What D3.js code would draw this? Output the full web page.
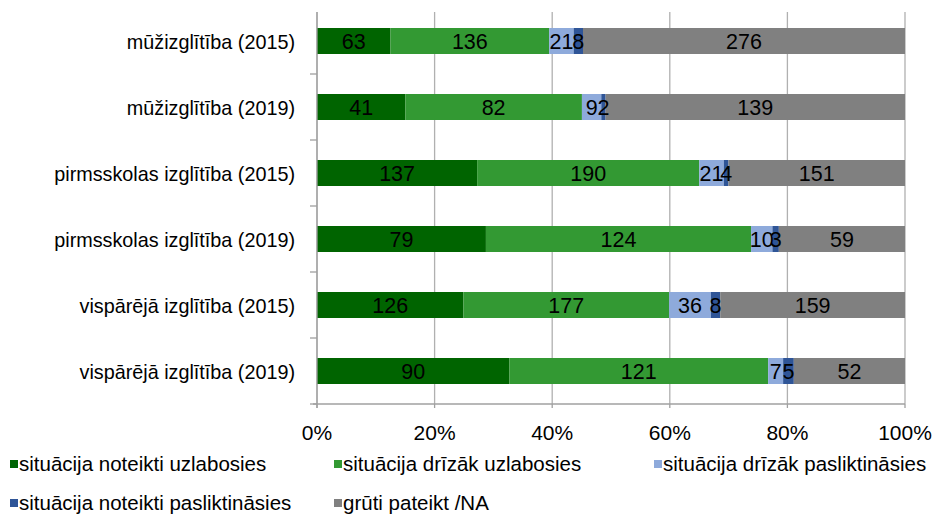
<!DOCTYPE html>
<html><head><meta charset="utf-8">
<script src="https://cdn.jsdelivr.net/npm/d3@7"></script>
<style>body{margin:0;background:#fff}svg{display:block}text{font-family:"Liberation Sans",Arial,sans-serif}</style>
</head><body><svg id="c" width="936" height="518"></svg>
<script>
const categories = ["mūžizglītība (2015)","mūžizglītība (2019)","pirmsskolas izglītība (2015)","pirmsskolas izglītība (2019)","vispārējā izglītība (2015)","vispārējā izglītība (2019)"];
const seriesNames = ["situācija noteikti uzlabosies","situācija drīzāk uzlabosies","situācija drīzāk pasliktināsies","situācija noteikti pasliktināsies","grūti pateikt /NA"];
const noteiktiUzlabosies = [63,41,137,79,126,90];
const drizakUzlabosies = [136,82,190,124,177,121];
const drizakPasliktinasies = [21,9,21,10,36,7];
const noteiktiPasliktinasies = [8,2,4,3,8,5];
const gruti = [276,139,151,59,159,52];
const colors = ["#006400","#339933","#8eaadb","#2f5597","#808080"];
const tickLabels = ["0%","20%","40%","60%","80%","100%"];

const series = [noteiktiUzlabosies,drizakUzlabosies,drizakPasliktinasies,noteiktiPasliktinasies,gruti];
const rows = categories.map((c,i)=>{const o={cat:c};seriesNames.forEach((s,j)=>o[s]=series[j][i]);return o;});
const stack = d3.stack().keys(seriesNames).offset(d3.stackOffsetExpand)(rows);

const svg = d3.select("#c");
const L=317,R=905,T=8,B=404;
const x = d3.scaleLinear().domain([0,1]).range([L,R]);
const yb = d3.scaleBand().domain(categories).range([T,B]);

// gridlines
svg.append("g").selectAll("line").data(d3.range(0,1.01,0.2)).join("line")
  .attr("x1",d=>x(d)).attr("x2",d=>x(d)).attr("y1",12).attr("y2",B)
  .attr("stroke","#b0b0b0").attr("stroke-width",1.3);

// bars
const g = svg.append("g");
stack.forEach((s,si)=>{
  g.append("g").selectAll("rect").data(s).join("rect")
    .attr("x",d=>x(d[0])).attr("width",d=>x(d[1])-x(d[0]))
    .attr("y",d=>yb(d.data.cat)+20).attr("height",26)
    .attr("fill",colors[si]);
});
stack.forEach((s,si)=>{
  g.append("g").selectAll("text").data(s).join("text")
    .attr("x",d=>(x(d[0])+x(d[1]))/2).attr("y",d=>yb(d.data.cat)+33)
    .attr("dy","0.36em").attr("text-anchor","middle")
    .attr("font-size",21.5).attr("fill","#000")
    .text(d=>d.data[seriesNames[si]]);
});

// y axis
const ax = svg.append("g").attr("stroke","#a0a0a0").attr("stroke-width",1.3);
ax.append("line").attr("x1",L).attr("x2",L).attr("y1",12).attr("y2",B+4);
ax.selectAll(".t").data(d3.range(1,categories.length+1)).join("line")
  .attr("x1",L-7).attr("x2",L).attr("y1",i=>T+i*yb.step()).attr("y2",i=>T+i*yb.step());
// x axis
ax.append("line").attr("x1",L-4).attr("x2",R).attr("y1",B).attr("y2",B);
ax.selectAll(".xt").data(d3.range(0,1.01,0.2)).join("line")
  .attr("x1",d=>x(d)).attr("x2",d=>x(d)).attr("y1",B).attr("y2",B+4);

svg.append("g").selectAll("text").data(categories).join("text")
  .attr("x",295).attr("y",d=>yb(d)+yb.bandwidth()/2+1).attr("dy","0.36em")
  .attr("text-anchor","end").attr("font-size",19.8).attr("fill","#000").text(d=>d);

svg.append("g").selectAll("text").data(tickLabels).join("text")
  .attr("x",(d,i)=>x(i/5)).attr("y",432).attr("dy","0.36em")
  .attr("text-anchor","middle").attr("font-size",21).attr("fill","#000").text(d=>d);

// legend
const legPos = [[10,464],[334,464],[654,464],[10,503],[334,503]];
const lg = svg.append("g").selectAll("g").data(seriesNames).join("g")
  .attr("transform",(d,i)=>`translate(${legPos[i][0]},${legPos[i][1]})`);
lg.append("rect").attr("x",0).attr("y",-4).attr("width",8).attr("height",8).attr("fill",(d,i)=>colors[i]);
lg.append("text").attr("x",9).attr("y",0).attr("dy","0.36em").attr("font-size",20.5).attr("fill","#000").text(d=>d);
</script></body></html>
